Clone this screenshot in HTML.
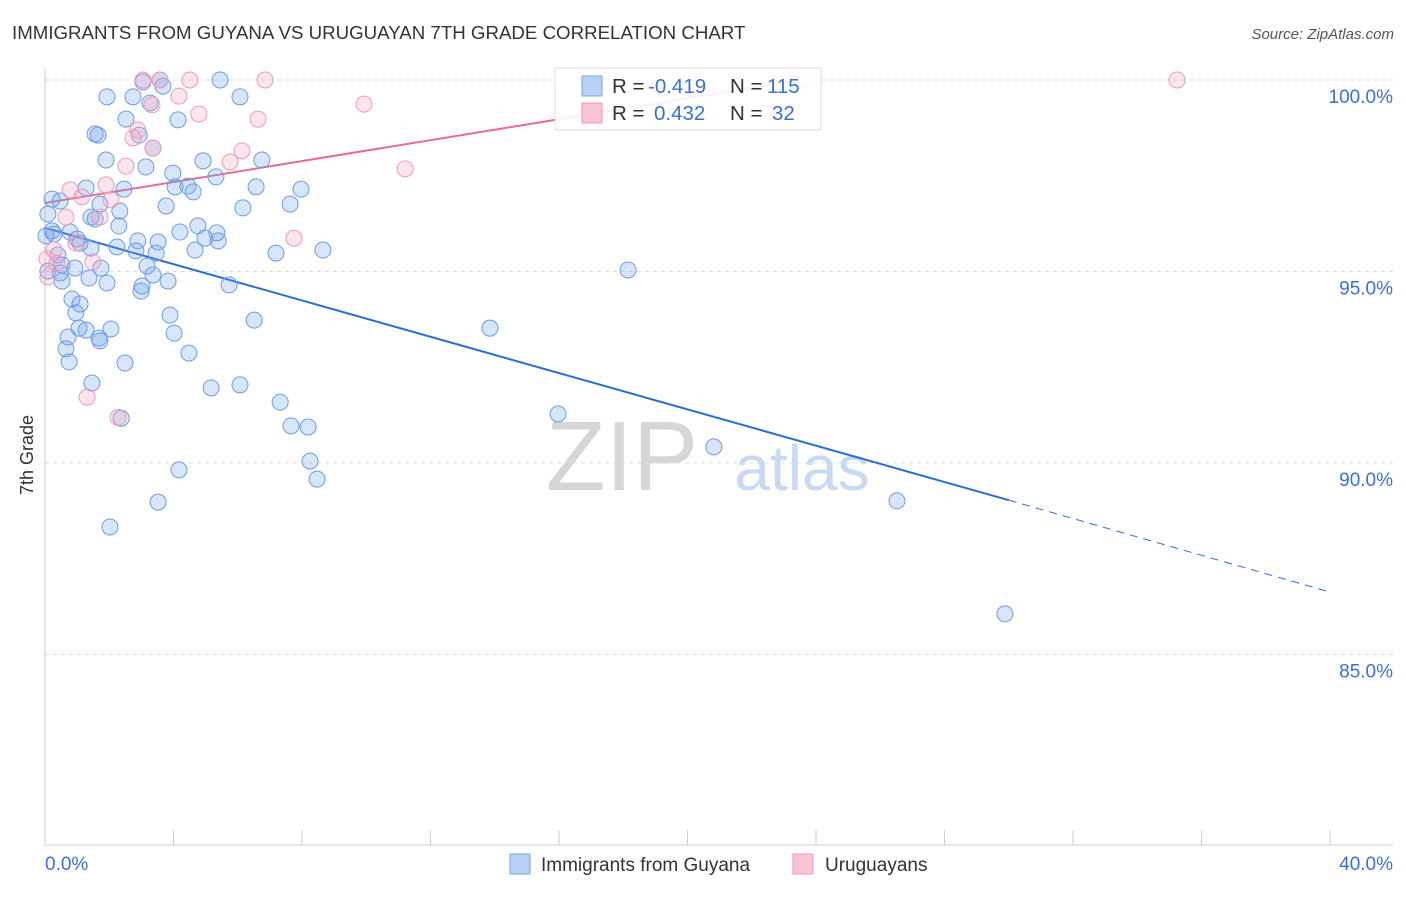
<!DOCTYPE html>
<html><head><meta charset="utf-8"><style>
body{margin:0;background:#fff;font-family:"Liberation Sans",sans-serif}
svg text{font-family:"Liberation Sans",sans-serif}
</style></head><body>
<svg id="c" width="1406" height="892" xmlns="http://www.w3.org/2000/svg">
<text x="12" y="39" font-size="18.7" fill="#333">IMMIGRANTS FROM GUYANA VS URUGUAYAN 7TH GRADE CORRELATION CHART</text>
<text x="1394" y="39" font-size="15" fill="#555" font-style="italic" text-anchor="end">Source: ZipAtlas.com</text>
<text transform="translate(33,455) rotate(-90)" font-size="18" fill="#333" text-anchor="middle">7th Grade</text>
<g>
<text x="622" y="490" font-size="98" fill="#d6d6d6" font-family="Liberation Serif" text-anchor="middle">ZIP</text>
<text x="802" y="490" font-size="64" fill="#c8daf2" text-anchor="middle">atlas</text>
</g>
<g id="grid"></g><g id="axes"></g><g id="trend"></g><g id="pts"></g>
<g>
<rect x="555" y="68" width="266" height="62" fill="#fff" fill-opacity="0.9" stroke="#ddd"/>
<rect x="582" y="76" width="20" height="20" fill="#b9d1f5" stroke="#7aa5e6"/>
<text x="612" y="93" font-size="20.5" fill="#333">R = </text><text x="648" y="93" font-size="20.5" fill="#3a6fd8">-0.419</text>
<text x="730" y="93" font-size="20.5" fill="#333">N = </text><text x="767" y="93" font-size="20.5" fill="#3a6fd8">115</text>
<rect x="582" y="103" width="20" height="20" fill="#f8c3d3" stroke="#eb9db7"/>
<text x="612" y="120" font-size="20.5" fill="#333">R = </text><text x="654" y="120" font-size="20.5" fill="#3a6fd8">0.432</text>
<text x="730" y="120" font-size="20.5" fill="#333">N = </text><text x="772" y="120" font-size="20.5" fill="#3a6fd8">32</text>
</g>
<g>
<rect x="510" y="854" width="20" height="20" fill="#b9d1f5" stroke="#7aa5e6"/>
<text x="541" y="871" font-size="19" fill="#333">Immigrants from Guyana</text>
<rect x="793" y="854" width="20" height="20" fill="#f8c3d3" stroke="#eb9db7"/>
<text x="825" y="871" font-size="19" fill="#333">Uruguayans</text>
</g>
</svg>
<script>
const blueX=[5.45,3.58,3.05,3.67,1.93,2.74,6.07,3.27,2.52,4.14,1.56,1.65,2.93,3.36,1.90,4.92,6.75,3.14,3.98,5.32,1.28,2.46,4.05,4.45,6.57,7.97,4.61,0.22,0.47,1.71,3.77,7.63,6.16,2.33,0.09,1.43,1.56,2.30,4.76,0.22,0.78,0.03,0.28,1.00,4.20,5.35,2.89,3.52,4.98,1.09,5.39,1.43,2.24,2.83,4.67,7.19,8.65,0.40,3.46,0.53,0.93,1.74,3.18,18.15,0.09,0.47,1.37,3.36,0.53,1.93,3.83,5.73,3.02,2.99,0.84,1.09,0.96,3.89,6.51,13.85,1.06,1.28,2.05,4.02,0.72,1.68,1.71,0.65,4.48,0.75,2.49,1.46,5.17,6.07,7.32,15.97,2.37,7.66,8.19,20.82,4.17,8.25,8.47,3.52,26.52,2.02,29.88];
const blueY=[100,100,99.95,99.84,99.56,99.56,99.56,99.40,98.98,98.96,98.59,98.56,98.56,98.22,97.91,97.89,97.91,97.73,97.57,97.47,97.18,97.15,97.21,97.23,97.21,97.15,97.08,96.89,96.84,96.76,96.71,96.76,96.66,96.58,96.50,96.42,96.37,96.19,96.19,96.06,96.03,95.93,95.98,95.85,96.03,96.01,95.80,95.77,95.87,95.74,95.80,95.61,95.64,95.54,95.56,95.48,95.56,95.43,95.48,95.17,95.09,95.09,95.14,95.04,95.01,94.96,94.83,94.91,94.75,94.70,94.75,94.65,94.62,94.49,94.28,94.15,93.92,93.86,93.73,93.52,93.52,93.47,93.50,93.39,93.29,93.26,93.19,92.98,92.87,92.64,92.61,92.09,91.96,92.04,91.59,91.28,91.17,90.97,90.94,90.42,89.82,90.05,89.58,88.98,89.01,88.33,86.06];
const pinkX=[3.05,3.58,4.51,6.85,23.56,35.24,4.17,9.93,3.33,4.79,6.63,2.89,2.74,3.36,6.13,5.76,2.52,11.21,1.90,0.78,1.15,2.05,0.65,1.71,7.75,0.96,0.28,0.06,0.37,1.49,0.09,1.31,2.27];
const pinkY=[100,100,100,100,100,100,99.58,99.37,99.35,99.11,98.98,98.69,98.49,98.22,98.15,97.86,97.75,97.68,97.26,97.13,96.95,96.87,96.42,96.42,95.87,95.74,95.56,95.33,95.22,95.25,94.86,91.72,91.19];
const blueTrendX=[0,30,40], blueTrendY=[96.14,89.03,86.63];
const pinkTrendX=[0,23.5], pinkTrendY=[96.79,100];
const yTicks=[100,95,90,85], yTickLabels=["100.0%","95.0%","90.0%","85.0%"];
const xTicks=[0,4,8,12,16,20,24,28,32,36,40];
const NS="http://www.w3.org/2000/svg";
const X=v=>45+v*(1285/40), Y=v=>80+(100-v)*38.3;
function mk(p,t,a){const e=document.createElementNS(NS,t);for(const k in a)e.setAttribute(k,a[k]);document.getElementById(p).appendChild(e);return e;}
yTicks.forEach((v,i)=>{
 const g=mk('grid','line',{x1:45,x2:1393,y1:Y(v),y2:Y(v),stroke:'#ddd','stroke-dasharray':'4,4'});
 
 
 const t=mk('grid','text',{x:1393,y:Y(v)+23,'font-size':19,fill:'#3a6fd8','text-anchor':'end'});
 t.textContent=yTickLabels[i];
 
 
});
let a=mk('axes','line',{x1:45,x2:45,y1:68,y2:845,stroke:'#ccc'});


a=mk('axes','line',{x1:45,x2:1393,y1:845,y2:845,stroke:'#ccc'});


xTicks.forEach(v=>{const t=mk('axes','line',{x1:X(v),x2:X(v),y1:830,y2:845,stroke:'#ccc'});
 
 });
let l=mk('axes','text',{x:45,y:870,'font-size':19,fill:'#3a6fd8'});l.textContent=xTicks[0].toFixed(1)+'%';


l=mk('axes','text',{x:1393,y:870,'font-size':19,fill:'#3a6fd8','text-anchor':'end'});l.textContent=xTicks[10].toFixed(1)+'%';


blueX.forEach((v,i)=>{const c=mk('pts','circle',{cx:X(v),cy:Y(blueY[i]),r:8,fill:'rgba(110,160,235,0.28)',stroke:'#6d9de3','stroke-width':1});
 
 });
pinkX.forEach((v,i)=>{const c=mk('pts','circle',{cx:X(v),cy:Y(pinkY[i]),r:8,fill:'rgba(245,160,190,0.28)',stroke:'#eb9db7','stroke-width':1});
 
 });
let t=mk('trend','line',{x1:X(blueTrendX[0]),y1:Y(blueTrendY[0]),x2:X(blueTrendX[1]),y2:Y(blueTrendY[1]),stroke:'#2a6fd6','stroke-width':2});


t=mk('trend','line',{x1:X(blueTrendX[1]),y1:Y(blueTrendY[1]),x2:X(blueTrendX[2]),y2:Y(blueTrendY[2]),stroke:'#2a6fd6','stroke-width':1,'stroke-dasharray':'8,6'});


t=mk('trend','line',{x1:X(pinkTrendX[0]),y1:Y(pinkTrendY[0]),x2:X(pinkTrendX[1]),y2:Y(pinkTrendY[1]),stroke:'#e86a95','stroke-width':2});


</script>
</body></html>
